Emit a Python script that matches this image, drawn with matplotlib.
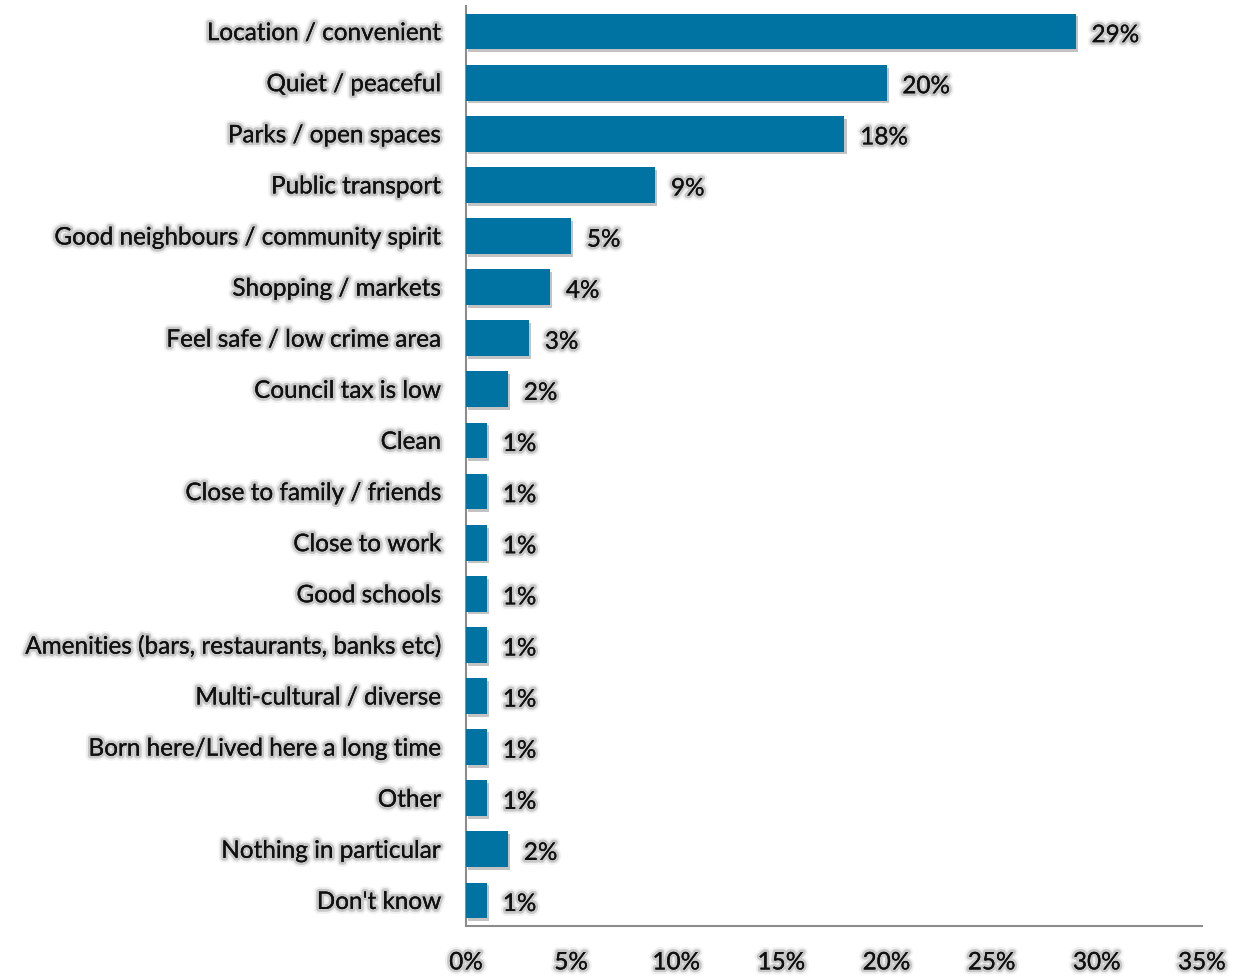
import matplotlib.pyplot as plt
import matplotlib.patheffects as pe

categories = [
    "Location / convenient",
    "Quiet / peaceful",
    "Parks / open spaces",
    "Public transport",
    "Good neighbours / community spirit",
    "Shopping / markets",
    "Feel safe / low crime area",
    "Council tax is low",
    "Clean",
    "Close to family / friends",
    "Close to work",
    "Good schools",
    "Amenities (bars, restaurants, banks etc)",
    "Multi-cultural / diverse",
    "Born here/Lived here a long time",
    "Other",
    "Nothing in particular",
    "Don't know",
]
values = [29, 20, 18, 9, 5, 4, 3, 2, 1, 1, 1, 1, 1, 1, 1, 1, 2, 1]
xticks = [0, 5, 10, 15, 20, 25, 30, 35]

plt.rcParams['font.family'] = ['Lato', 'DejaVu Sans']

# soft grey glow round every text
glow = [pe.withStroke(linewidth=7, foreground='#d0d0d0', alpha=0.3),
        pe.withStroke(linewidth=4, foreground='#a8a8a8', alpha=0.55),
        pe.Normal()]

fig = plt.figure(figsize=(12.4, 9.76), dpi=100)
ax = fig.add_axes([0.3758, 0.0512, 0.5935, 0.9426])

pos = list(range(len(categories)))
bars = ax.barh(pos, values, height=0.7, color='#0073A3', zorder=3)
for b in bars:
    b.set_path_effects([pe.SimplePatchShadow(offset=(1.5, -2), shadow_rgbFace='#555555', alpha=0.35),
                        pe.Normal()])

for p, v in zip(pos, values):
    ax.text(v + 0.75, p + 0.04, f"{v}%", va='center_baseline', ha='left', fontsize=17.5,
            color='#111111', path_effects=glow)

ax.set_xlim(0, 35)
ax.set_ylim(len(categories) - 0.5, -0.5)
ax.set_xticks(xticks)
ax.set_xticklabels([f"{t}%" for t in xticks])
ax.set_yticks(pos)
ax.set_yticklabels(categories, va='center_baseline')

for lab in ax.get_xticklabels() + ax.get_yticklabels():
    lab.set_fontsize(17.5)
    lab.set_color('#111111')
    lab.set_path_effects(glow)

ax.tick_params(axis='both', length=0)
ax.tick_params(axis='x', pad=19)
ax.tick_params(axis='y', pad=18)

for s in ['top', 'right']:
    ax.spines[s].set_visible(False)
for s in ['left', 'bottom']:
    ax.spines[s].set_color('#8c8c8c')
    ax.spines[s].set_linewidth(1.5)

fig.savefig("out.png", dpi=100)
